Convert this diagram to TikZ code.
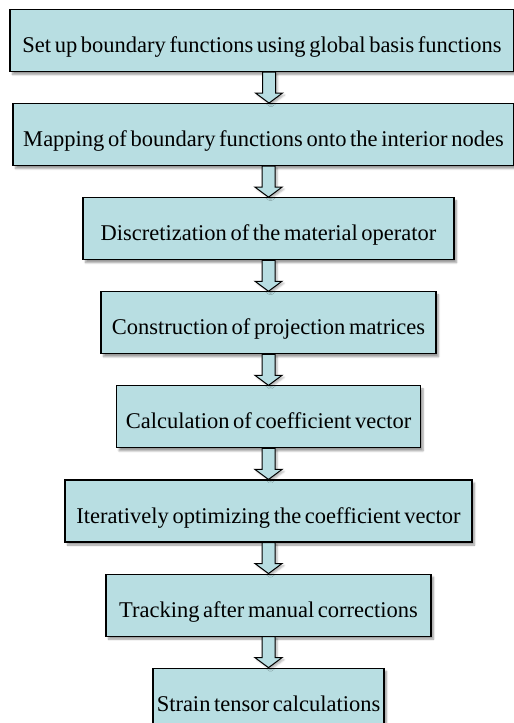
\documentclass[tikz,border=0pt]{standalone}
\usepackage{fontspec}
\setmainfont{Liberation Serif}[WordSpace=0.65]
\usetikzlibrary{positioning}
\usetikzlibrary{calc,shadows.blur}

\definecolor{boxteal}{RGB}{184,222,226}

% hollow block arrow from the bottom of one box to the top of the next
\newcommand{\flowarrow}[3][0pt]{%
  \draw[arrow body] let \p1=(#2.south), \p2=($(#3.north)+(#1,0)$) in
    (\x2-6.5pt,\y1) -- (\x2-6.5pt,\y2+10pt) -- (\x2-13.5pt,\y2+10pt) -- (\x2,\y2)
    -- (\x2+13.5pt,\y2+10pt) -- (\x2+6.5pt,\y2+10pt) -- (\x2+6.5pt,\y1) -- cycle;}

\begin{document}
\begin{tikzpicture}[node distance=31pt,
  flow box/.style={rectangle,draw=black,line width=1.1pt,fill=boxteal,
    minimum height=62pt,inner sep=0pt,text height=24pt,text depth=0pt,
    font=\fontsize{22.5}{27}\selectfont,
    blur shadow={shadow xshift=2.5pt,shadow yshift=-3pt,shadow blur steps=5,shadow opacity=40}},
  arrow body/.style={draw=black,line width=1pt,fill=boxteal,
    blur shadow={shadow xshift=2pt,shadow yshift=-2pt,shadow blur steps=4,shadow opacity=30}}]
  \useasboundingbox (0,0) rectangle (514pt,-723pt);
  \node (setup) [flow box,minimum width=504pt] at (262pt,-40.5pt)
    {Set up boundary functions using global basis functions};
  \node (mapping) [flow box,below=of setup,xshift=1.5pt,minimum width=501pt]
    {Mapping of boundary functions onto the interior nodes};
  \node (discret) [flow box,below=of mapping,xshift=5pt,minimum width=371pt]
    {Discretization of the material operator};
  \node (proj) [flow box,below=of discret,minimum width=335pt]
    {Construction of projection matrices};
  \node (coeff) [flow box,below=of proj,minimum width=304pt]
    {Calculation of coefficient vector};
  \node (optim) [flow box,below=of coeff,minimum width=407pt]
    {Iteratively optimizing the coefficient vector};
  \node (track) [flow box,below=of optim,minimum width=325pt]
    {Tracking after manual corrections};
  \node (strain) [flow box,below=of track,minimum width=231pt]
    {Strain tensor calculations};
  \flowarrow[5.5pt]{setup}{mapping}
  \flowarrow{mapping}{discret}
  \flowarrow{discret}{proj}
  \flowarrow{proj}{coeff}
  \flowarrow{coeff}{optim}
  \flowarrow{optim}{track}
  \flowarrow{track}{strain}
\end{tikzpicture}
\end{document}
